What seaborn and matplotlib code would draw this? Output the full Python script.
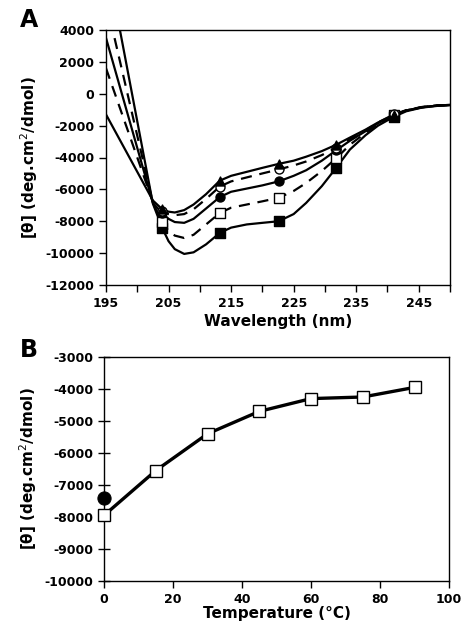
import matplotlib
matplotlib.use("Agg")
import matplotlib.pyplot as plt
import seaborn as sns
import pandas as pd

# ---------------- Panel A data (CD spectra) ----------------
wavelength = [195, 198, 201, 202.5, 204, 205, 206, 207.5, 209, 211, 213.2, 215,
              217.5, 220, 222.6, 225, 227, 229.5, 231.8, 234, 236.5, 238.5, 241,
              243, 245.5, 248, 250]
marker_wavelengths = [204, 213.2, 222.6, 231.8, 241]

spec_filled_square = [8600, 2400, -3800, -6900, -8430, -9250, -9750, -10050, -9950,
                      -9450, -8730, -8400, -8200, -8100, -8000, -7550, -6850, -5800,
                      -4650, -3500, -2600, -2000, -1450, -1100, -870, -760, -720]
spec_open_square = [5800, 740, -4320, -6850, -8050, -8600, -8900, -9050, -8850,
                    -8200, -7480, -7150, -6950, -6750, -6530, -6100, -5600, -4850,
                    -4050, -3200, -2450, -1900, -1350, -1050, -840, -740, -700]
spec_filled_circle = [3500, -640, -4780, -6850, -7500, -7850, -8050, -8100, -7850,
                      -7200, -6480, -6150, -5950, -5750, -5500, -5150, -4800, -4200,
                      -3550, -2950, -2350, -1850, -1350, -1050, -850, -740, -700]
spec_open_circle = [1600, -1760, -5120, -6800, -7380, -7550, -7620, -7550, -7250,
                    -6600, -5820, -5500, -5250, -5000, -4750, -4500, -4250, -3850,
                    -3400, -2850, -2300, -1800, -1300, -1030, -830, -730, -700]
spec_triangle = [-1300, -3460, -5620, -6700, -7250, -7400, -7450, -7300, -6950,
                 -6300, -5450, -5150, -4900, -4650, -4400, -4200, -3950, -3600,
                 -3200, -2750, -2250, -1800, -1350, -1050, -850, -740, -700]

a_xticks = [195, 200, 205, 210, 215, 220, 225, 230, 235, 240, 245, 250]
a_xticklabels = ["195", "", "205", "", "215", "", "225", "", "235", "", "245", ""]
a_yticks = [4000, 2000, 0, -2000, -4000, -6000, -8000, -10000, -12000]
a_yticklabels = ["4000", "2000", "0", "-2000", "-4000", "-6000", "-8000", "-10000", "-12000"]

# ---------------- Panel B data (temperature) ----------------
temperature = [0, 15, 30, 45, 60, 75, 90]
theta_temp = [-7950, -6550, -5400, -4700, -4300, -4250, -3950]
recool_temp = [0]
recool_theta = [-7400]

b_xticks = [0, 20, 40, 60, 80, 100]
b_yticks = [-3000, -4000, -5000, -6000, -7000, -8000, -9000, -10000]
b_yticklabels = ["-3000", "-4000", "-5000", "-6000", "-7000", "-8000", "-9000", "-10000"]

ylabel = "[θ] (deg.cm$^{2}$/dmol)"

sns.set_style("ticks")
plt.rcParams["font.family"] = ["DejaVu Sans"]
plt.rcParams["text.color"] = "black"
plt.rcParams["axes.labelcolor"] = "black"
plt.rcParams["xtick.color"] = "black"
plt.rcParams["ytick.color"] = "black"

fig = plt.figure(figsize=(4.63, 6.24), dpi=100)
W, H = 463, 624
axA = fig.add_axes([106 / W, 1 - 285 / H, 344 / W, 255 / H])
axB = fig.add_axes([104 / W, 1 - 581 / H, 345 / W, 224 / H])

series = [
    (spec_filled_square, "s", "black", "-"),
    (spec_open_square, "s", "white", "--"),
    (spec_filled_circle, "o", "black", "-"),
    (spec_open_circle, "o", "white", "--"),
    (spec_triangle, "^", "black", "-"),
]

for vals, mk, fc, ls in series:
    df = pd.DataFrame({"wl": wavelength, "theta": vals})
    sns.lineplot(data=df, x="wl", y="theta", ax=axA, color="black",
                 linewidth=1.6, linestyle=ls, sort=False, estimator=None)
    if ls == "--":
        axA.lines[-1].set_dashes((5, 3.5))
for vals, mk, fc, ls in series:
    df = pd.DataFrame({"wl": wavelength, "theta": vals})
    dm = df[df["wl"].isin(marker_wavelengths)]
    sns.scatterplot(data=dm, x="wl", y="theta", ax=axA, marker=mk, s=42,
                    color=fc, edgecolor="black", linewidth=1.0, zorder=5)

axA.set_xlim(195, 250)
axA.set_ylim(-12000, 4000)
axA.set_xticks(a_xticks)
axA.set_xticklabels(a_xticklabels)
axA.set_yticks(a_yticks)
axA.set_yticklabels(a_yticklabels)
axA.set_xlabel("Wavelength (nm)", fontsize=11, fontweight="bold", labelpad=3)
axA.set_ylabel(ylabel, fontsize=11, fontweight="bold", labelpad=4)

# Panel B
dfB = pd.DataFrame({"T": temperature, "theta": theta_temp})
sns.lineplot(data=dfB, x="T", y="theta", ax=axB, color="black", linewidth=2.4,
             marker="s", markersize=9, markerfacecolor="white",
             markeredgecolor="black", markeredgewidth=1.0, estimator=None, zorder=4)
dfR = pd.DataFrame({"T": recool_temp, "theta": recool_theta})
sns.scatterplot(data=dfR, x="T", y="theta", ax=axB, marker="o", s=90,
                color="black", edgecolor="black", zorder=5)
axB.set_xlim(0, 100)
axB.set_ylim(-10000, -3000)
axB.set_xticks(b_xticks)
axB.set_yticks(b_yticks)
axB.set_yticklabels(b_yticklabels)
axB.set_xlabel("Temperature (°C)", fontsize=11, fontweight="bold", labelpad=0)
axB.set_ylabel(ylabel, fontsize=11, fontweight="bold", labelpad=4)
for c in axB.collections + axB.lines:
    c.set_clip_on(False)

for ax in (axA, axB):
    for sp in ax.spines.values():
        sp.set_visible(True)
        sp.set_linewidth(1.0)
        sp.set_color("black")
    ax.tick_params(axis="both", labelsize=9, width=1.0, length=5, colors="black")
    for lab in ax.get_xticklabels() + ax.get_yticklabels():
        lab.set_fontweight("semibold")

axA.tick_params(axis="both", direction="out")
axB.tick_params(axis="y", direction="inout", length=8)
axB.tick_params(axis="x", direction="out")

fig.text(20 / W, 1 - 20 / H, "A", fontsize=17, fontweight="bold", va="center", ha="left")
fig.text(20 / W, 1 - 350 / H, "B", fontsize=17, fontweight="bold", va="center", ha="left")

fig.savefig("out.png", dpi=100, facecolor="white")
